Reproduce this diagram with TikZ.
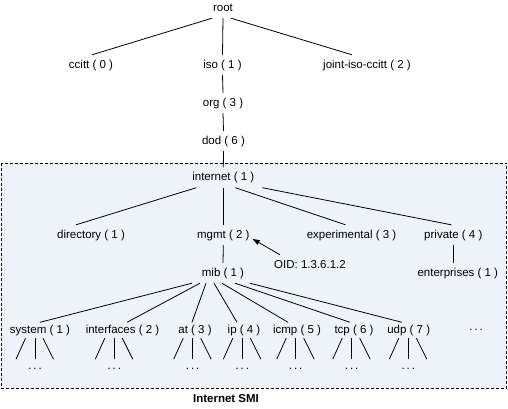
\documentclass[tikz,border=0pt]{standalone}
\usepackage{fontspec}
\setmainfont{Liberation Sans}
\usetikzlibrary{arrows.meta}
\definecolor{smiback}{RGB}{238,243,250}
\newcommand\treefont{\fontsize{11.5}{13}\selectfont}
\tikzset{
  leaf/.style={inner ysep=2pt},
  moredots/.style={text height=2pt, text depth=0pt, inner ysep=7.6pt},
}
\begin{document}
\begin{tikzpicture}[x=1pt, y=-1pt,
    every node/.style={inner xsep=0pt, inner ysep=4pt, text height=9pt,
      text depth=3pt, font=\treefont}]
      \useasboundingbox (0,0) rectangle (508,408);
      \draw[dashed, dash pattern=on 3pt off 2pt, fill=smiback]
        (1,162.7) rectangle (506.5,388);
      \draw
        (223,8) node (root){root}
        (91,65) node (ccitt){ccitt ( 0 )}
        (222.5,65) node (iso){iso ( 1 )}
        (367,65) node (joint){joint-iso-ccitt ( 2 )}
        (223,103) node (org){org ( 3 )}
        (223.5,141) node (dod){dod ( 6 )}
        (223.3,177.5) node (internet){internet ( 1 )}
        (91,235) node (directory){directory ( 1 )}
        (223.3,235) node (mgmt){mgmt ( 2 )}
        (351.5,235) node (experimental){experimental ( 3 )}
        (453.3,235) node (private){private ( 4 )}
        (310,265) node (oid){OID: 1.3.6.1.2}
        (223,273) node (mib){mib ( 1 )}
        (457.8,273.5) node (enterprises){enterprises ( 1 )}
        (40,330.5) node[leaf] (system){system ( 1 )}
        (122.5,330.5) node[leaf] (interfaces){interfaces ( 2 )}
        (195,330.5) node[leaf] (at){at ( 3 )}
        (244,330.5) node[leaf] (ip){ip ( 4 )}
        (297,330.5) node[leaf] (icmp){icmp ( 5 )}
        (354,330.5) node[leaf] (tcp){tcp ( 6 )}
        (408.7,330.5) node[leaf] (udp){udp ( 7 )}
        (476,329) node[moredots] (more){.\,.\,.}
        (35,368) node[moredots] (system-more){.\,.\,.}
        (114.3,368) node[moredots] (interfaces-more){.\,.\,.}
        (192.7,368) node[moredots] (at-more){.\,.\,.}
        (242.3,368) node[moredots] (ip-more){.\,.\,.}
        (295.7,368) node[moredots] (icmp-more){.\,.\,.}
        (351.7,368) node[moredots] (tcp-more){.\,.\,.}
        (408.3,368) node[moredots] (udp-more){.\,.\,.}
        (226,399) node[font=\treefont\bfseries] (smi){Internet SMI};
      \begin{scope}[-, line width=0.8pt]
        \draw ([xshift=-11pt]root.south) to ([xshift=1pt]ccitt.north);
        \draw (root.south) to (iso.north);
        \draw ([xshift=8pt]root.south) to ([xshift=-15pt]joint.north);
        \draw (iso.south) to (org.north);
        \draw (org.south) to (dod.north);
        \draw (dod.south) to (internet.north);
        \draw ([xshift=-27pt]internet.south) to ([xshift=-15pt]directory.north);
        \draw (internet.south) to (mgmt.north);
        \draw ([xshift=12pt]internet.south) to ([xshift=-6pt]experimental.north);
        \draw ([xshift=39pt]internet.south) to ([xshift=-2pt]private.north);
        \draw (mgmt.south) to (mib.north);
        \draw (private.south) to (private.south |- enterprises.north);
        \foreach \n/\s/\e in {system/-31/0, interfaces/-23/4.5, at/-17/-3,
            ip/-9/-7, icmp/-1/-9, tcp/12/-4, udp/27/-6.7}
          \draw ([xshift=\s pt]mib.south) to ([xshift=\e pt]\n.north);
        \foreach \n in {system,interfaces,at,ip,icmp,tcp,udp} {
          \draw ([xshift=-19pt]\n-more.north) -- ++(9.5,-21);
          \draw (\n-more.north) -- ++(0,-21);
          \draw ([xshift=18.5pt]\n-more.north) -- ++(-10.5,-21);
        }
        \draw[-{Triangle[length=7pt,width=5pt]}]
          ([xshift=6pt]oid.north west) to ([shift={(3,4)}]mgmt.east);
      \end{scope}
    \end{tikzpicture}
\end{document}
